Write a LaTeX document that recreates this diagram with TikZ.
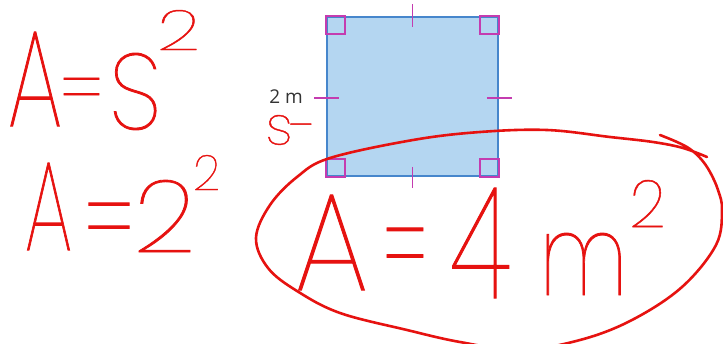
\documentclass[tikz,border=0pt]{standalone}
\usepackage{fontspec}
\usepackage{graphicx}
\IfFontExistsTF{Poppins Thin}{\newfontfamily\hand{Poppins Thin}[FakeBold=0.8]}{%
 \IfFontExistsTF{Lato Hairline}{\newfontfamily\hand{Lato Hairline}}{%
  \IfFontExistsTF{Open Sans Light}{\newfontfamily\hand{Open Sans Light}}{%
   \newfontfamily\hand{DejaVu Sans}}}}
\newfontfamily\lab{Open Sans}
\definecolor{hred}{RGB}{230,18,16}
\definecolor{sqfill}{RGB}{180,214,241}
\definecolor{sqline}{RGB}{70,134,204}
\definecolor{mag}{RGB}{196,60,176}
\definecolor{lgray}{RGB}{51,51,51}
\tikzset{
  hw/.style={inner sep=0pt, outer sep=0pt, text=hred, anchor=center},
  sqbox/.style={draw=sqline, fill=sqfill, line width=1.8pt, minimum width=171pt, minimum height=159pt, inner sep=0pt},
  rmark/.style={draw=mag, line width=1.3pt},
  sidetick/.style={draw=mag, line width=1.2pt},
  loopline/.style={draw=hred, line width=2.6pt, line cap=round, line join=round},
}
\begin{document}
\begin{tikzpicture}[x=1pt,y=-1pt]
\useasboundingbox (0,0) rectangle (723,343);
% square
\node[sqbox] (sq) at (412.5,96.5) {};
\draw[rmark] (sq.north west) rectangle ++(19,18);
\draw[rmark] (sq.north east) rectangle ++(-19,18);
\draw[rmark] (sq.south west) rectangle ++(19,-18);
\draw[rmark] (sq.south east) rectangle ++(-19,-18);
\draw[sidetick] ([yshift=12pt]sq.north) -- ([yshift=-11pt]sq.north);
\draw[sidetick] ([yshift=10pt]sq.south) -- ([yshift=-11pt]sq.south);
\draw[sidetick] ([xshift=-12pt,yshift=-1.5pt]sq.west) -- ([xshift=13pt,yshift=-1.5pt]sq.west);
\draw[sidetick] ([xshift=-12pt,yshift=-1.5pt]sq.east) -- ([xshift=13pt,yshift=-1.5pt]sq.east);
\node[font=\lab\fontsize{19}{21}\selectfont, text=lgray, anchor=base east, inner sep=0pt] (lbl) at (303,103) {2 m};
% handwriting line 1
\node[hw] (a1) at (35,79) {\resizebox*{54pt}{94pt}{\hand A}};
\node[hw] (eq1) at (81.5,99) {\resizebox*{41pt}{42pt}{\hand =}};
\node[hw] (s1) at (135,91.5) {\resizebox*{52pt}{77pt}{\hand S}};
\node[hw] (p1) at (178.5,30) {\resizebox*{43pt}{40pt}{\hand 2}};
% line 2
\node[hw] (a2) at (48.5,206.5) {\resizebox*{47pt}{87pt}{\hand A}};
\node[hw] (eq2) at (109,234) {\resizebox*{47pt}{62pt}{\hand =}};
\node[hw] (t2) at (164.5,216) {\resizebox*{62pt}{72pt}{\hand 2}};
\node[hw] (p2) at (206.5,172.5) {\resizebox*{27pt}{35pt}{\hand 2}};
% s-
\node[hw] (sd) at (291.5,130) {\resizebox*{52pt}{30pt}{\hand s-}};
% circled result
\node[hw] (a3) at (331.5,242.5) {\resizebox*{73pt}{95pt}{\hand A}};
\node[hw] (eq3) at (405,264) {\resizebox*{42pt}{72pt}{\hand =}};
\node[hw] (f3) at (480.5,243) {\resizebox*{60pt}{110pt}{\hand 4}};
\node[hw] (m3) at (583.5,264) {\resizebox*{88pt}{62pt}{\hand m}};
\node[hw] (p3) at (647.5,203.5) {\resizebox*{36pt}{47pt}{\hand 2}};
% loop
\draw[loopline] plot[smooth, tension=0.6] coordinates {(660,135) (677,142) (690,149) (701,159) (710,172) (718,190) (722,210) (716,245) (682,287) (632,320) (580,340) (520,350) (460,342) (407,330) (340,313) (297,291) (268,268) (256,238) (270,205) (297,177) (330,158) (413,140) (480,132) (547,130) (610,137) (653,142) (683,148) (707,157)};
\end{tikzpicture}
\end{document}
